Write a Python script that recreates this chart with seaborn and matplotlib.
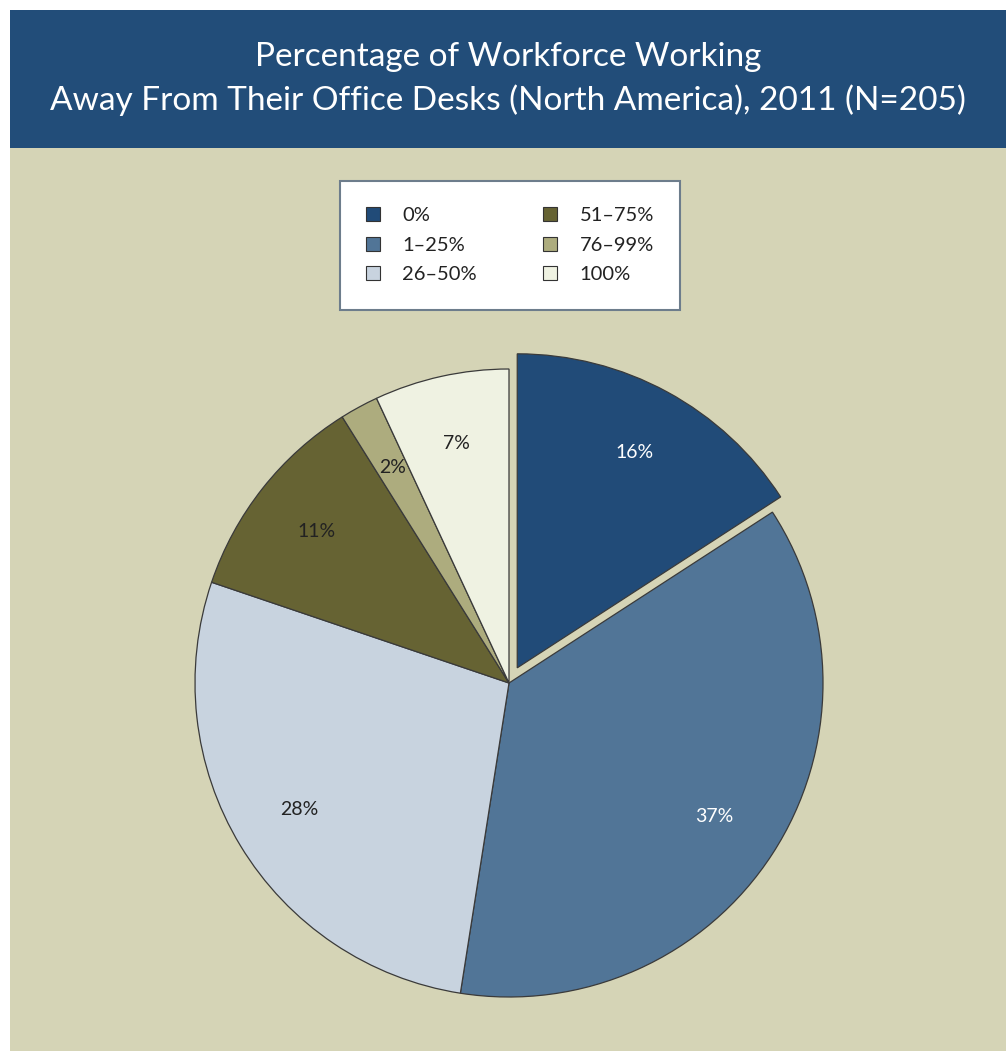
import matplotlib
matplotlib.use("Agg")
import matplotlib.pyplot as plt
from matplotlib.patches import Rectangle, Patch
import seaborn as sns

categories = ["0%", "1\u201325%", "26\u201350%", "51\u201375%", "76\u201399%", "100%"]
values = [16, 37, 28, 11, 2, 7]
pct_labels = ["16%", "37%", "28%", "11%", "2%", "7%"]
colors = ["#214b78", "#517597", "#c8d3df", "#666333", "#adac7e", "#eff2e2"]
label_colors = ["white", "white", "#222222", "#222222", "#222222", "#222222"]
title_lines = "Percentage of Workforce Working\nAway From Their Office Desks (North America), 2011 (N=205)"

sns.set_theme(style="white")
plt.rcParams["font.family"] = ["Lato", "DejaVu Sans"]
palette = sns.color_palette(colors)

W, H = 1006, 1051
fig = plt.figure(figsize=(W / 100, H / 100), dpi=100)
fig.patch.set_facecolor("white")

# background panels
fig.add_artist(Rectangle((10 / W, 0), 1 - 10 / W, (H - 148) / H,
                         transform=fig.transFigure, facecolor="#d5d4b6", edgecolor="none", zorder=0))
fig.add_artist(Rectangle((10 / W, (H - 148) / H), 1 - 10 / W, 138 / H,
                         transform=fig.transFigure, facecolor="#224d79", edgecolor="none", zorder=0))
fig.text(508 / W, 1 - 79 / H, title_lines, ha="center", va="center", color="white",
         fontsize=24, linespacing=1.5)

# pie axes
cx, cy, r = 509, 683, 314
lim = 1.1
half = lim * r
ax = fig.add_axes([(cx - half) / W, (H - cy - half) / H, 2 * half / W, 2 * half / H])
ax.patch.set_alpha(0)

explode = [0.055, 0, 0, 0, 0, 0]
wedges, texts, autotexts = ax.pie(values, colors=palette, startangle=90, counterclock=False,
                                  explode=explode, radius=1, autopct="%1.0f%%", pctdistance=0.78,
                                  wedgeprops=dict(edgecolor="#3a3a3a", linewidth=0.9),
                                  textprops=dict(fontsize=14))
ax.set_xlim(-lim, lim)
ax.set_ylim(-lim, lim)
ax.axis("off")
for t, lab, c in zip(autotexts, pct_labels, label_colors):
    t.set_text(lab)
    t.set_color(c)

handles = [Patch(facecolor=c, edgecolor="#333333", linewidth=0.8, label=lab)
           for c, lab in zip(palette, categories)]
leg = fig.legend(handles=handles, loc="upper center", bbox_to_anchor=(510 / W, 1 - 181 / H),
                 ncol=2, frameon=True, fontsize=14.5, handlelength=0.7, handleheight=0.7,
                 handletextpad=1.1, columnspacing=3.3, labelspacing=0.62,
                 borderpad=1.3, borderaxespad=0, fancybox=False)
frame = leg.get_frame()
frame.set_facecolor("white")
frame.set_edgecolor("#6d7d8c")
frame.set_linewidth(1.5)
frame.set_alpha(1)
for t in leg.get_texts():
    t.set_color("#222222")

fig.savefig("out.png", dpi=100, facecolor=fig.get_facecolor())
